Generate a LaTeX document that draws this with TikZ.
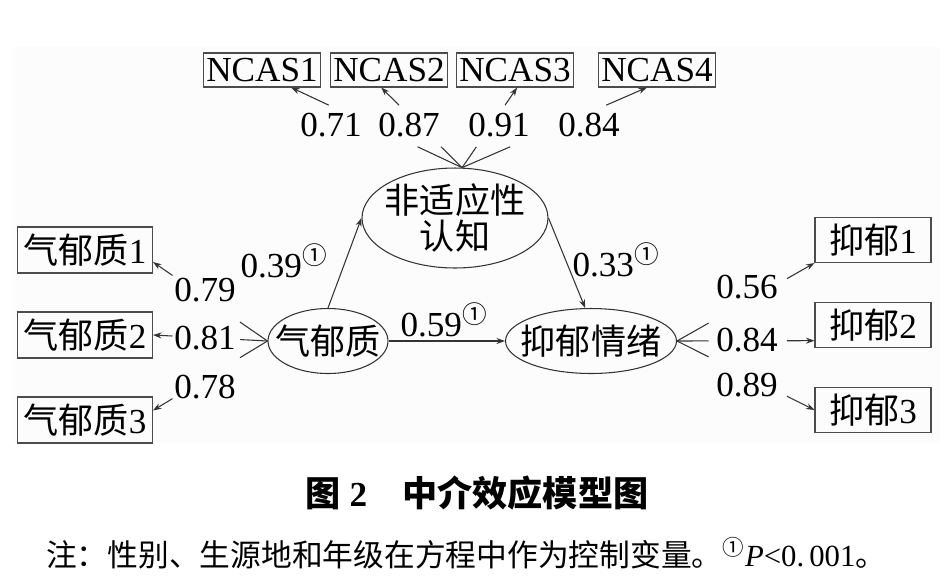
\documentclass[tikz,border=0pt]{standalone}
\usepackage{fontspec}
\setmainfont{Liberation Serif}
\newfontfamily\cjk{Noto Sans CJK SC}
\usetikzlibrary{calc}
\usetikzlibrary{shapes.geometric}
\usetikzlibrary{arrows.meta}

\begin{document}
\begin{tikzpicture}[x=0.02cm, y=-0.02cm,
    >={Stealth[length=1.7mm, width=1.2mm]},
    every node/.style={font=\fontsize{20}{21}\selectfont},
    zh/.style={font=\fontsize{20}{21}\selectfont\cjk},
    obs/.style={draw=black!70, line width=0.6pt, inner xsep=1.5pt, inner ysep=0pt},
    lat/.style={ellipse, draw=black!80, line width=0.6pt, inner xsep=-12pt, inner ysep=-8pt},
    path/.style={draw=black!80, line width=0.6pt},
    coef/.style={inner sep=0pt}]

        \useasboundingbox (0,0) rectangle (951,586);
        \fill[black!1] (14,47) rectangle (940,442);

        % indicators
        \node[obs, minimum height=0.68cm] (n1) at (262,70) {NCAS1};
        \node[obs, minimum height=0.68cm] (n2) at (389,70) {NCAS2};
        \node[obs, minimum height=0.68cm] (n3) at (515,70) {NCAS3};
        \node[obs, minimum height=0.68cm] (n4) at (657,70) {NCAS4};

        \node[obs, minimum width=2.7cm, minimum height=0.92cm] (q1) at (85,250) {{\cjk 气郁质}1};
        \node[obs, minimum width=2.7cm, minimum height=0.92cm] (q2) at (85,335) {{\cjk 气郁质}2};
        \node[obs, minimum width=2.7cm, minimum height=0.92cm] (q3) at (85,420) {{\cjk 气郁质}3};

        \node[obs, minimum width=2.32cm, minimum height=0.9cm] (d1) at (873,240) {{\cjk 抑郁}1};
        \node[obs, minimum width=2.32cm, minimum height=0.9cm] (d2) at (873,325) {{\cjk 抑郁}2};
        \node[obs, minimum width=2.32cm, minimum height=0.9cm] (d3) at (873,410) {{\cjk 抑郁}3};

        % latent variables
        \node[lat, zh, align=center, minimum width=3.72cm, minimum height=2cm] (m) at (455,218) {非适应性\\认知};
        \node[lat, zh, minimum width=2.4cm, minimum height=1.3cm] (t) at (328,341) {气郁质};
        \node[lat, zh, minimum width=3.42cm, minimum height=1.3cm] (y) at (591,341) {抑郁情绪};

        % loadings
        \node[coef] (w1) at (331,125) {0.71};
        \node[coef] (w2) at (409,125) {0.87};
        \node[coef] (w3) at (499,125) {0.91};
        \node[coef] (w4) at (589,125) {0.84};

        \node[coef] (a1) at (205,290) {0.79};
        \node[coef] (a2) at (205,338) {0.81};
        \node[coef] (a3) at (205,387) {0.78};

        \node[coef] (b1) at (747,287) {0.56};
        \node[coef] (b2) at (747,340) {0.84};
        \node[coef] (b3) at (747,385) {0.89};

        \node[coef] (p1) at (284,261) {0.39\textsuperscript{\cjk ①}};
        \node[coef] (p2) at (444,320) {0.59\textsuperscript{\cjk ①}};
        \node[coef] (p3) at (616,260) {0.33\textsuperscript{\cjk ①}};

        \foreach \i/\a in {1/-31, 2/-114, 3/-83, 4/-120} {
          \draw[path] (m.82) -- ($(m.82)!0.26!(n\i.\a)$);
          \draw[path, ->] ($(m.82)!0.78!(n\i.\a)$) -- (n\i.\a);
        }

        \foreach \i/\a in {1/-10, 2/0, 3/8} {
          \draw[path] (t.west) -- ($(t.west)!0.24!(q\i.\a)$);
          \draw[path, ->] ($(t.west)!0.83!(q\i.\a)$) -- (q\i.\a);
        }

        \foreach \i/\a in {1/south west, 2/195, 3/west} {
          \draw[path] (y.east) -- ($(y.east)!0.23!(d\i.\a)$);
          \draw[path, ->] ($(y.east)!0.8!(d\i.\a)$) -- (d\i.\a);
        }

        % structural paths
        \draw[path, ->] (t.north) -- (m.west);
        \draw[path, ->] (t) -- (y);
        \draw[path, ->] (m.east) -- (y.100);

        % caption
        \node[font=\fontsize{20}{22}\selectfont\bfseries] (cap) at (477,493) {{\cjk 图} 2\quad{\cjk 中介效应模型图}};
        \node[font=\fontsize{17.5}{20}\selectfont, anchor=west] (note) at (40,553) {{\cjk 注：性别、生源地和年级在方程中作为控制变量。}\textsuperscript{\cjk ①}\textit{P}<0.\,001{\cjk 。}};

      \end{tikzpicture}
\end{document}
